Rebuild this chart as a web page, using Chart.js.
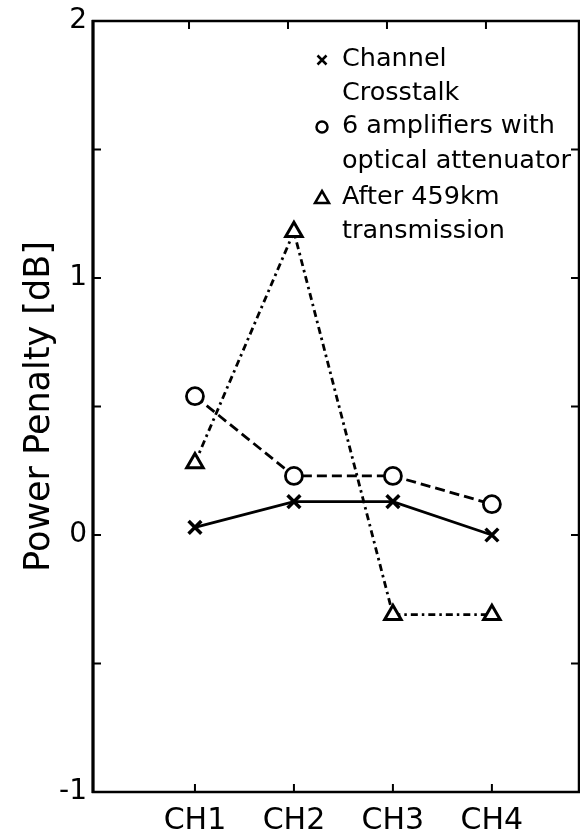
<!DOCTYPE html>
<html>
<head>
<meta charset="utf-8">
<script src="https://cdn.jsdelivr.net/npm/chart.js@4.4.1/dist/chart.umd.min.js"></script>
<style>
  html, body { margin: 0; padding: 0; background: #fff; }
</style>
</head>
<body>
<canvas id="penaltyChart" width="580" height="840"></canvas>
<script>
// Công suất phạt theo kênh
const channels = ['CH1', 'CH2', 'CH3', 'CH4'];
const channelPos = [1, 2, 3, 4];
const crosstalk = [0.03, 0.13, 0.13, 0.0];
const amplifiers = [0.54, 0.23, 0.23, 0.12];
const transmission = [0.28, 1.18, -0.31, -0.31];
const yTicks = [-1, -0.5, 0, 0.5, 1, 1.5, 2];
const legendItems = [
  { marker: 'cross', lines: ['Channel', 'Crosstalk'] },
  { marker: 'circle', lines: ['6 amplifiers with', 'optical attenuator'] },
  { marker: 'triangle', lines: ['After 459km', 'transmission'] }
];

const FONT = 'DejaVu Sans';
const X_MIN = -0.03, X_MAX = 4.88;

function toPoints(values) {
  return values.map((v, i) => ({ x: channelPos[i], y: v }));
}

// Khung, vạch chia hướng vào trong
const framePlugin = {
  id: 'frame',
  afterDraw(chart) {
    const { ctx, chartArea: a, scales } = chart;
    ctx.save();
    ctx.strokeStyle = '#000';
    ctx.setLineDash([]);
    ctx.lineWidth = 2.5;
    ctx.strokeRect(a.left, a.top, a.right - a.left, a.bottom - a.top);
    ctx.lineWidth = 3;
    ctx.beginPath();
    ctx.moveTo(a.left, a.top - 1); ctx.lineTo(a.left, a.bottom + 1);
    ctx.stroke();

    ctx.lineWidth = 2;
    const len = 8;
    yTicks.forEach(v => {
      const y = scales.y.getPixelForValue(v);
      ctx.beginPath();
      ctx.moveTo(a.left, y); ctx.lineTo(a.left + len, y);
      ctx.moveTo(a.right, y); ctx.lineTo(a.right - len, y);
      ctx.stroke();
    });
    channelPos.forEach(p => {
      const xt = scales.xt.getPixelForValue(p);
      const xb = scales.xb.getPixelForValue(p);
      ctx.beginPath();
      ctx.moveTo(xt, a.top); ctx.lineTo(xt, a.top + len);
      ctx.moveTo(xb, a.bottom); ctx.lineTo(xb, a.bottom - len);
      ctx.stroke();
    });
    ctx.restore();
  }
};

// Chú thích
const legendPlugin = {
  id: 'noteLegend',
  afterDraw(chart) {
    const ctx = chart.ctx;
    const markerX = 322, textX = 342;
    const lineYs = [59, 93, 126, 161, 197, 231];
    ctx.save();
    ctx.fillStyle = '#000';
    ctx.strokeStyle = '#000';
    ctx.font = '25.5px "' + FONT + '"';
    ctx.textBaseline = 'middle';
    let row = 0;
    legendItems.forEach(item => {
      const my = lineYs[row] + 1;
      ctx.lineWidth = 2.5;
      ctx.beginPath();
      if (item.marker === 'cross') {
        const r = 4.5;
        ctx.moveTo(markerX - r, my - r); ctx.lineTo(markerX + r, my + r);
        ctx.moveTo(markerX + r, my - r); ctx.lineTo(markerX - r, my + r);
      } else if (item.marker === 'circle') {
        ctx.arc(markerX, my, 5.5, 0, Math.PI * 2);
      } else {
        ctx.moveTo(markerX, my - 7); ctx.lineTo(markerX + 7, my + 5);
        ctx.lineTo(markerX - 7, my + 5); ctx.closePath();
      }
      ctx.stroke();
      item.lines.forEach(t => {
        ctx.fillText(t, textX, lineYs[row]);
        row++;
      });
    });
    ctx.restore();
  }
};

new Chart(document.getElementById('penaltyChart'), {
  type: 'line',
  data: {
    datasets: [
      {
        label: 'Channel Crosstalk',
        data: toPoints(crosstalk),
        borderColor: '#000',
        borderWidth: 2.8,
        pointStyle: 'crossRot',
        pointRadius: 9,
        pointBorderWidth: 3.5,
        pointBorderColor: '#000',
        xAxisID: 'x'
      },
      {
        label: '6 amplifiers with optical attenuator',
        data: toPoints(amplifiers),
        borderColor: '#000',
        borderWidth: 2.8,
        borderDash: [10, 5],
        pointStyle: 'circle',
        pointRadius: 8.5,
        pointBorderWidth: 2.8,
        pointBorderColor: '#000',
        pointBackgroundColor: '#fff',
        xAxisID: 'x'
      },
      {
        label: 'After 459km transmission',
        data: toPoints(transmission),
        borderColor: '#000',
        borderWidth: 2.8,
        borderDash: [7, 4, 2.5, 4],
        pointStyle: 'triangle',
        pointRadius: 9.5,
        pointBorderWidth: 3,
        pointBorderColor: '#000',
        pointBackgroundColor: '#fff',
        xAxisID: 'x'
      }
    ]
  },
  options: {
    responsive: false,
    animation: false,
    devicePixelRatio: 1,
    layout: { autoPadding: false, padding: { top: 21, right: 1, left: 0, bottom: 0 } },
    plugins: {
      legend: { display: false },
      tooltip: { enabled: false }
    },
    scales: {
      x: {
        type: 'linear',
        min: X_MIN,
        max: X_MAX,
        display: false
      },
      // thang phụ cho vạch chia phía trên
      xt: {
        type: 'linear',
        min: X_MIN + 0.06,
        max: X_MAX + 0.06,
        display: false
      },
      xb: {
        type: 'linear',
        position: 'bottom',
        min: X_MIN,
        max: X_MAX,
        afterBuildTicks: s => { s.ticks = channelPos.map(v => ({ value: v })); },
        afterFit: s => { s.height = 48; s.paddingLeft = 0; s.paddingRight = 0; },
        grid: { drawOnChartArea: false, drawTicks: false },
        border: { display: false },
        ticks: {
          color: '#000',
          padding: 11,
          maxRotation: 0,
          font: { family: FONT, size: 30 },
          callback: v => channels[channelPos.indexOf(v)]
        }
      },
      y: {
        type: 'linear',
        position: 'left',
        min: -1,
        max: 2,
        afterBuildTicks: s => { s.ticks = yTicks.map(v => ({ value: v })); },
        afterFit: s => { s.width = 93; s.paddingTop = 0; s.paddingBottom = 0; },
        grid: { drawOnChartArea: false, drawTicks: false },
        border: { display: false },
        ticks: {
          color: '#000',
          padding: 6,
          font: { family: FONT, size: 28 },
          callback: v => Number.isInteger(v) ? String(v) : ''
        },
        title: {
          display: true,
          text: 'Power Penalty [dB]',
          color: '#000',
          font: { family: FONT, size: 35 },
          padding: { top: 19, bottom: 0 }
        }
      }
    }
  },
  plugins: [framePlugin, legendPlugin]
});
</script>
</body>
</html>
